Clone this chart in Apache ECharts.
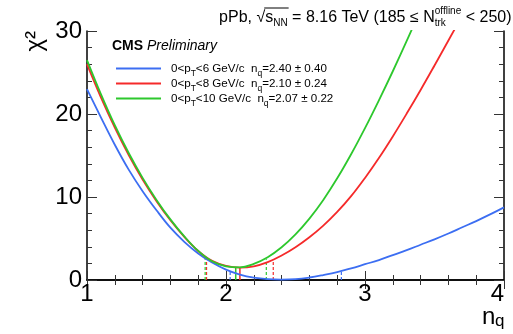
<!DOCTYPE html>
<html><head><meta charset="utf-8">
<script src="https://cdn.jsdelivr.net/npm/echarts@6/dist/echarts.min.js"></script>
<style>html,body{margin:0;padding:0;background:#fff}#c{width:513px;height:334px}</style>
</head><body><div id="c"></div>
<script>
// ---- data ----
const nqGrid = [1.0,1.1,1.2,1.3,1.4,1.5,1.6,1.7,1.8,1.9,2.0,2.1,2.2,2.3,2.4,2.5,2.6,2.7,2.8,2.9,3.0,3.1,3.2,3.3,3.4,3.5,3.6,3.7,3.8,3.9,4.0];
const chi2Pt6  = [23.0,19.6,16.3,13.3,10.7,8.4,6.3,4.6,3.2,2.1,1.25,0.65,0.28,0.1,0.05,0.1,0.3,0.6,0.95,1.4,1.9,2.4,3.0,3.6,4.25,4.9,5.6,6.35,7.1,7.9,8.75];
const chi2Pt8  = [26.0,22.0,18.35,15.05,12.1,9.5,7.2,5.2,3.5,2.3,1.7,1.5,1.65,2.15,2.95,3.95,5.15,6.55,8.2,10.1,12.3,14.7,17.3,20.05,22.9,25.85,28.85,31.9,35.0,38.1,41.2];
const chi2Pt10 = [26.5,22.4,18.65,15.3,12.3,9.65,7.3,5.25,3.5,2.25,1.65,1.52,1.95,2.75,3.95,5.5,7.4,9.65,12.25,15.15,18.3,21.65,25.15,28.8,32.6,36.5,40.5,44.6,48.8,53.0,57.3];
const seriesNames = ['0<pT<6 GeV/c','0<pT<8 GeV/c','0<pT<10 GeV/c'];
const ptMax = ['6','8','10'];
const fitCenter = [2.40, 2.10, 2.07];
const fitLow    = [2.03, 1.86, 1.85];
const fitHigh   = [2.83, 2.34, 2.29];
const chi2Min   = [0.05, 1.5, 1.5];
const fitLabel  = ['2.40 ± 0.40','2.10 ± 0.24','2.07 ± 0.22'];
const xTicks = [1,2,3,4];
const yTicks = [0,10,20,30];

// ---- style ----
const colors = ['#3c6ef2','#f52a2a','#2dc82d'];
const FF = '"Liberation Sans", Arial, Helvetica, sans-serif';
const curves = [chi2Pt6, chi2Pt8, chi2Pt10];

const mctx = document.createElement('canvas').getContext('2d');
function tw(t, size, weight, style){ mctx.font = (style||'normal')+' '+(weight||'normal')+' '+size+'px '+FF; return mctx.measureText(t).width; }
function txt(t, x, y, size, o){ o=o||{}; return {type:'text', x:x, y:y, silent:true, rotation:o.rot||0,
  style:{text:t, fill:'#000', fontSize:size, fontFamily:FF, fontWeight:o.weight||'normal', fontStyle:o.style||'normal',
  textAlign:o.align||'left', textVerticalAlign:o.va||'middle', verticalAlign:o.va||'middle'}}; }
function runsWidth(runs){ let w=0; runs.forEach(r=>{ if(r.stack){ w+=Math.max(...r.stack.map(s=>tw(s.t,s.size))); } else w+=tw(r.t,r.size,r.weight,r.style); }); return w; }
function layout(runs, x0, ymid){ const els=[]; let x=x0; const pos=[]; runs.forEach(r=>{ if(r.stack){ let mw=0; r.stack.forEach(s=>{ els.push(txt(s.t,x,ymid+(s.dy||0),s.size)); mw=Math.max(mw,tw(s.t,s.size)); }); pos.push([x,x+mw]); x+=mw; } else { els.push(txt(r.t,x,ymid+(r.dy||0),r.size,{weight:r.weight,style:r.style})); const w=tw(r.t,r.size,r.weight,r.style); pos.push([x,x+w]); x+=w; } }); return {els, pos, end:x}; }

const graphics = [];
// title
const TS=16, SS=10;
const titleRuns = [
  {t:'pPb, ', size:TS},{t:'√', size:TS},{t:'s', size:TS},{t:'NN', size:SS, dy:5},
  {t:' = 8.16 TeV (185 ≤ N', size:TS},
  {stack:[{t:'offline', size:SS, dy:-7},{t:'trk', size:SS, dy:5}]},
  {t:' < 250)', size:TS}];
const tW = runsWidth(titleRuns);
const tl = layout(titleRuns, 511.5 - tW, 18);
graphics.push(...tl.els);
graphics.push({type:'line', silent:true, shape:{x1:tl.pos[1][1]-1, y1:8, x2:tl.pos[3][1]+1, y2:8}, style:{stroke:'#000', lineWidth:1}});

// CMS Preliminary
graphics.push(...layout([{t:'CMS', size:14, weight:'bold'},{t:' Preliminary', size:14, style:'italic'}], 112, 46).els);

// legend
const rowY = [68.5, 83.5, 98.5];
for(let i=0;i<3;i++){
  graphics.push({type:'line', silent:true, shape:{x1:116,y1:rowY[i],x2:161,y2:rowY[i]}, style:{stroke:colors[i], lineWidth:2}});
  const LS=11.6, LSS=8.5;
  graphics.push(...layout([
    {t:'0<p', size:LS},{t:'T', size:LSS, dy:5},{t:'<'+ptMax[i]+' GeV/c  n', size:LS},{t:'q', size:LSS, dy:5},{t:'='+fitLabel[i], size:LS}
  ], 171, rowY[i]).els);
}
// axis names
graphics.push(txt('χ²', 35, 31, 24, {rot:Math.PI/2, align:'right'}));
graphics.push(txt('n', 482, 317, 24));
graphics.push(txt('q', 495, 321.5, 17));

const series = [];
for(let i=0;i<3;i++){
  series.push({type:'line', name:seriesNames[i], data:nqGrid.map((x,k)=>[x,curves[i][k]]), smooth:0.4, symbol:'none', clip:true,
    lineStyle:{color:colors[i], width:1.8}, z:3+i, animation:false});
}
for(let i=0;i<3;i++){
  [fitLow[i], fitHigh[i]].forEach(x=>{
    series.push({type:'line', data:[[x,0],[x,chi2Min[i]+1]], symbol:'none', lineStyle:{color:colors[i], width:1.2, type:[3,2]}, z:2, animation:false});
  });
  series.push({type:'line', data:[[fitCenter[i],0],[fitCenter[i],chi2Min[i]]], symbol:'none', lineStyle:{color:colors[i], width:1.5}, z:2, animation:false});
}

const axisCommon = {axisLine:{show:true, lineStyle:{color:'#000', width:1.5}}, splitLine:{show:false}};
const chart = echarts.init(document.getElementById('c'), null, {renderer:'canvas'});
chart.setOption({
  animation:false, backgroundColor:'#fff',
  grid:{left:87, right:9, top:31, bottom:54},
  xAxis:[
    Object.assign({type:'value', min:xTicks[0], max:xTicks[xTicks.length-1], interval:1, position:'bottom',
      axisTick:{inside:true, length:9, lineStyle:{color:'#333', width:1}},
      minorTick:{show:true, splitNumber:5, length:5, lineStyle:{color:'#333', width:1}},
      axisLabel:{fontSize:24, color:'#000', fontFamily:FF, margin:2, alignMaxLabel:'right'}}, axisCommon),
    Object.assign({type:'value', min:xTicks[0], max:xTicks[xTicks.length-1], interval:1, position:'top',
      axisTick:{inside:true, length:9, lineStyle:{color:'#333', width:1}},
      minorTick:{show:true, splitNumber:5, length:5, lineStyle:{color:'#333', width:1}},
      axisLabel:{show:false}}, axisCommon)
  ],
  yAxis:[
    Object.assign({type:'value', min:yTicks[0], max:yTicks[yTicks.length-1], interval:10, position:'left',
      axisTick:{inside:true, length:10, lineStyle:{color:'#333', width:1}},
      minorTick:{show:true, splitNumber:5, length:5, lineStyle:{color:'#333', width:1}},
      axisLabel:{fontSize:24, color:'#000', fontFamily:FF, margin:5}}, axisCommon),
    Object.assign({type:'value', min:yTicks[0], max:yTicks[yTicks.length-1], interval:10, position:'right',
      axisTick:{inside:true, length:10, lineStyle:{color:'#333', width:1}},
      minorTick:{show:true, splitNumber:5, length:5, lineStyle:{color:'#333', width:1}},
      axisLabel:{show:false}}, axisCommon)
  ],
  series: series,
  graphic: graphics
});
</script></body></html>
